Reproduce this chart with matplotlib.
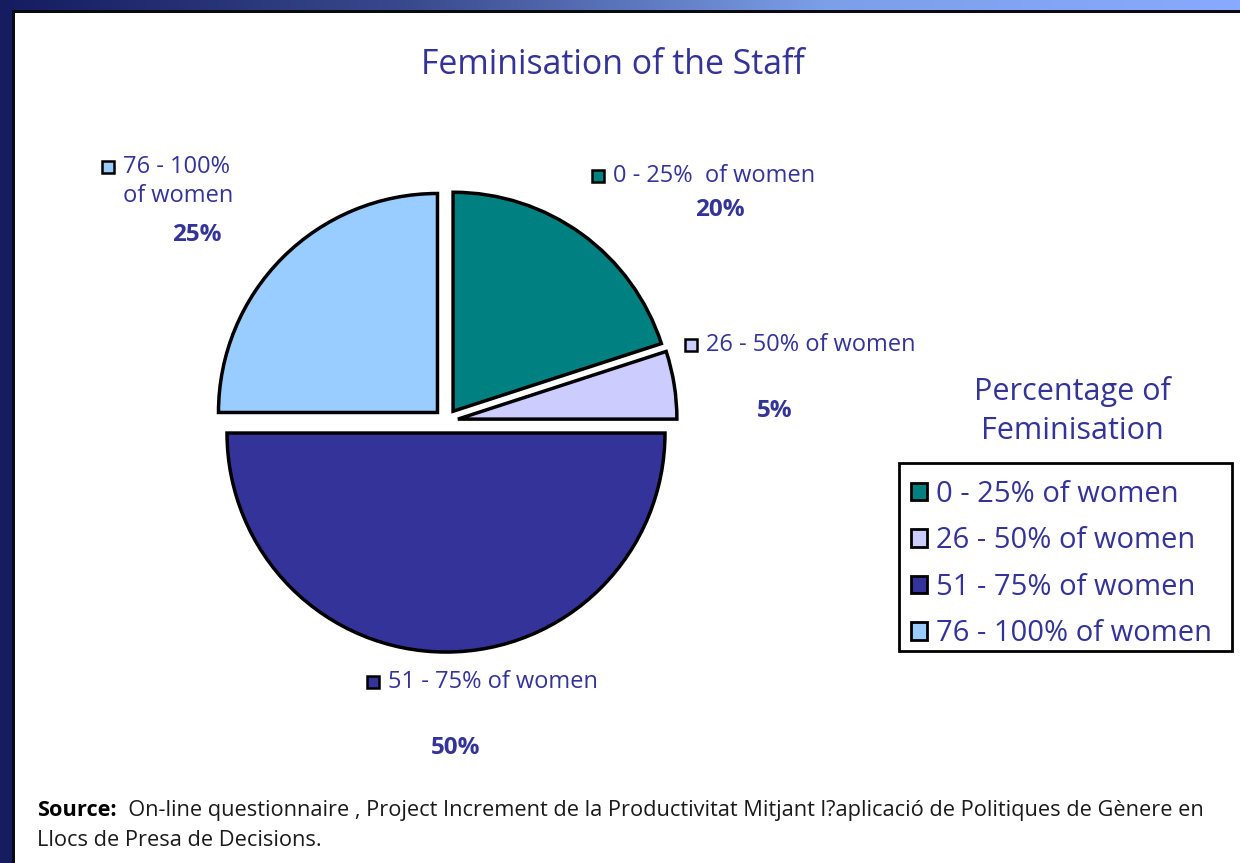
import numpy as np
import matplotlib
matplotlib.use("Agg")
import matplotlib.pyplot as plt
from matplotlib.patches import Rectangle
from matplotlib.lines import Line2D
from matplotlib.colors import LinearSegmentedColormap

# ---- data ----
categories = ["0 - 25% of women", "26 - 50% of women", "51 - 75% of women", "76 - 100% of women"]
slice_labels = ["0 - 25%  of women", "26 - 50% of women", "51 - 75% of women", "76 - 100%\nof women"]
values = [20, 5, 50, 25]
pct_labels = ["20%", "5%", "50%", "25%"]
colors = ["#008080", "#CCCCFF", "#333399", "#99CCFF"]
title = "Feminisation of the Staff"
legend_title = "Percentage of\nFeminisation"
source_bold = "Source:"
source_text = "  On-line questionnaire , Project Increment de la Productivitat Mitjant l?aplicació de Politiques de Gènere en"
source_text2 = "Llocs de Presa de Decisions."

TXT = "#333399"
FONT = ["Open Sans", "DejaVu Sans"]
plt.rcParams['font.family'] = FONT

W, H = 1240, 863
fig = plt.figure(figsize=(W / 100, H / 100), dpi=100)

def fx(px):
    return px / W

def fy(py):
    return 1 - py / H

# ---- background frame ----
bg = fig.add_axes([0, 0, 1, 1], zorder=0)
bg.set_axis_off()
cmap = LinearSegmentedColormap.from_list("frame", ["#151c60", "#3a4a8e", "#7c9fe8", "#88aaff"])
grad = np.linspace(0, 1, 512).reshape(1, -1)
bg.imshow(grad, cmap=cmap, aspect="auto", extent=[0, 1, 0, 1])
bg.set_xlim(0, 1)
bg.set_ylim(0, 1)
bg.add_patch(Rectangle((0, 0), fx(12), 1, facecolor="#151c60", edgecolor="none"))
bg.add_patch(Rectangle((fx(12), 0), 1, fy(10), facecolor="#0a0a14", edgecolor="none"))
bg.add_patch(Rectangle((fx(15), 0), 1, fy(13), facecolor="white", edgecolor="none"))
# legend box frame
bg.add_patch(Rectangle((fx(899), fy(651)), (1232 - 899) / W, (651 - 463) / H,
                       facecolor="white", edgecolor="black", linewidth=2, zorder=3))

# ---- pie ----
cx, cy, R = 446, 421, 219
L = 1.2
side = 2 * L * R
ax = fig.add_axes([fx(cx - side / 2), fy(cy + side / 2), side / W, side / H], zorder=2)
wedges, _ = ax.pie(values, colors=colors, startangle=90, counterclock=False,
                   explode=[0.055] * 4, radius=1,
                   wedgeprops=dict(edgecolor="black", linewidth=2.5))
ax.set_xlim(-L, L)
ax.set_ylim(-L, L)
ax.set_aspect("equal")
ax.set_axis_off()

# ---- title ----
fig.text(fx(613), fy(65), title, ha="center", va="center", fontsize=24.4, color=TXT)

# ---- slice labels ----
lab_pos = [(598, 176), (691, 345), (373, 682), (108, 167)]
pct_pos = [(720, 210), (775, 411), (456, 748), (197, 235)]
for i, (lab, (mx, my)) in enumerate(zip(slice_labels, lab_pos)):
    fig.add_artist(Line2D([fx(mx)], [fy(my)], marker="s", markersize=8.5,
                          markerfacecolor=colors[i], markeredgecolor="black",
                          markeredgewidth=1.8, linestyle="none",
                          transform=fig.transFigure, zorder=5))
    lines = lab.split("\n")
    for j, ln in enumerate(lines):
        fig.text(fx(mx + 15), fy(my + j * 29), ln, ha="left", va="center",
                 fontsize=17, color=TXT, zorder=5)
    px, py = pct_pos[i]
    fig.text(fx(px), fy(py), pct_labels[i], ha="center", va="center",
             fontsize=17.5, fontweight="bold", color=TXT, zorder=5)

# ---- legend ----
fig.text(fx(1072), fy(411), legend_title, ha="center", va="center", fontsize=22,
         color=TXT, linespacing=1.35, zorder=5)
handles = [Rectangle((0, 0), 1, 1, facecolor=c, edgecolor="black", linewidth=2) for c in colors]
leg = fig.legend(handles, categories, loc="upper left",
                 bbox_to_anchor=(fx(902), fy(471)), fontsize=21,
                 frameon=False,
                 handlelength=0.55, handleheight=0.55, handletextpad=0.3,
                 borderpad=0.3, labelspacing=0.6, borderaxespad=0)
for t in leg.get_texts():
    t.set_color(TXT)
leg.set_zorder(6)

# ---- source ----
s1 = fig.text(fx(37), fy(810), source_bold, ha="left", va="center", fontsize=15.7,
              fontweight="bold", color="black", zorder=5)
bg.annotate(source_text, xy=(1, 0), xycoords=s1, ha="left", va="bottom",
            fontsize=15.7, color="#1a1a1a", zorder=5)
fig.text(fx(37), fy(840), source_text2, ha="left", va="center", fontsize=15.7,
         color="#1a1a1a", zorder=5)

fig.savefig("out.png", dpi=100)
